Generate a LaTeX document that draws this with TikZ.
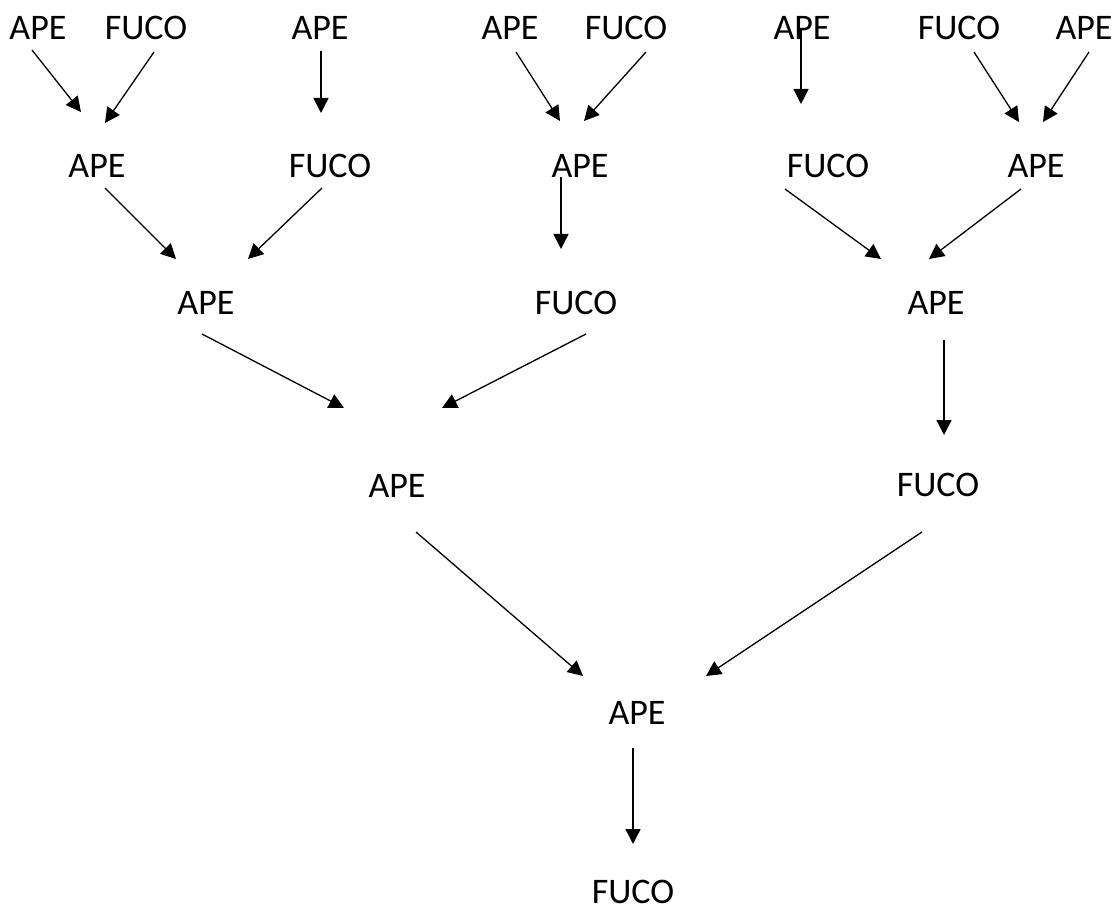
\documentclass[tikz,border=0pt]{standalone}
\usepackage{fontspec}
\setmainfont{Carlito}
\usetikzlibrary{arrows.meta}
\tikzset{
  lbl/.style={inner sep=0pt, font=\fontsize{36}{43}\selectfont},
  arr/.style={line width=1.3pt, -{Triangle[length=15pt,width=15pt]}}
}
\begin{document}
\begin{tikzpicture}[x=1pt,y=-1pt]
\useasboundingbox (0,0) rectangle (1115,909);
% row 1
\node[lbl] (r1a) at (38,28) {APE};
\node[lbl] (r1b) at (146,28) {FUCO};
\node[lbl] (r1c) at (320,28) {APE};
\node[lbl] (r1d) at (510,28) {APE};
\node[lbl] (r1e) at (626,28) {FUCO};
\node[lbl] (r1f) at (802,28) {APE};
\node[lbl] (r1g) at (959,28) {FUCO};
\node[lbl] (r1h) at (1084,28) {APE};
% row 2
\node[lbl] (r2a) at (97,166) {APE};
\node[lbl] (r2b) at (330,166) {FUCO};
\node[lbl] (r2c) at (580,166) {APE};
\node[lbl] (r2d) at (828,166) {FUCO};
\node[lbl] (r2e) at (1036,166) {APE};
% row 3
\node[lbl] (r3a) at (206,303) {APE};
\node[lbl] (r3b) at (576,303) {FUCO};
\node[lbl] (r3c) at (936,303) {APE};
% row 4
\node[lbl] (r4a) at (397,486) {APE};
\node[lbl] (r4b) at (938,485) {FUCO};
% row 5, 6
\node[lbl] (r5a) at (637,713) {APE};
\node[lbl] (r6a) at (633,892) {FUCO};
% arrow ends
\coordinate (s1) at (32,50);   \coordinate (e1) at (81,112);
\coordinate (s2) at (154,52);  \coordinate (e2) at (105,123);
\coordinate (s3) at (321,51);  \coordinate (e3) at (321,113);
\coordinate (s4) at (516,52);  \coordinate (e4) at (560,121);
\coordinate (s5) at (646,52);  \coordinate (e5) at (584,121);
\coordinate (s6) at (801,29);  \coordinate (e6) at (801,104);
\coordinate (s7) at (974,52);  \coordinate (e7) at (1019,122);
\coordinate (s8) at (1089,52); \coordinate (e8) at (1043,122);
\coordinate (s9) at (105,188); \coordinate (e9) at (176,259);
\coordinate (s10) at (322,188); \coordinate (e10) at (248,259);
\coordinate (s11) at (561,177); \coordinate (e11) at (561,249);
\coordinate (s12) at (785,189); \coordinate (e12) at (881,259);
\coordinate (s13) at (1021,189); \coordinate (e13) at (929,259);
\coordinate (s14) at (202,334); \coordinate (e14) at (344,408);
\coordinate (s15) at (586,334); \coordinate (e15) at (442,408);
\coordinate (s16) at (944,340); \coordinate (e16) at (944,435);
\coordinate (s17) at (416,532); \coordinate (e17) at (583,676);
\coordinate (s18) at (922,532); \coordinate (e18) at (706,676);
\coordinate (s19) at (633,748); \coordinate (e19) at (633,844);
\foreach \i in {1,...,19} { \draw[arr] (s\i) -- (e\i); }
\end{tikzpicture}
\end{document}
